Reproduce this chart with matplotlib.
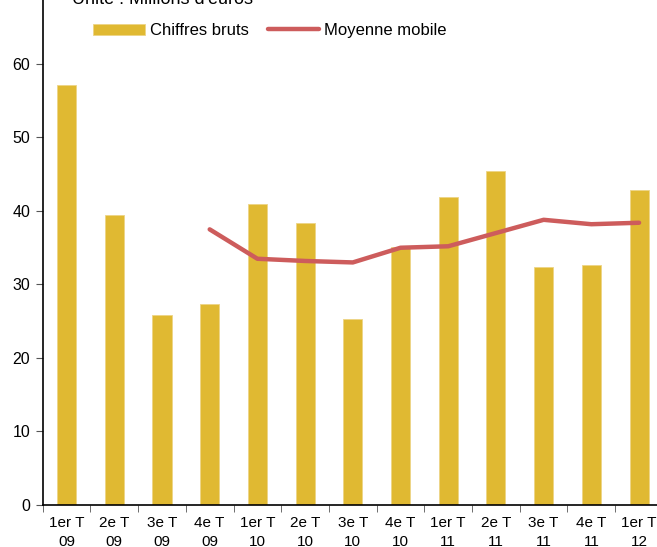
import numpy as np
import matplotlib.pyplot as plt

plt.rcParams['font.family'] = ['Liberation Sans', 'DejaVu Sans']

# données (millions d'euros)
trimestres = ['1er T\n09', '2e T\n09', '3e T\n09', '4e T\n09',
              '1er T\n10', '2e T\n10', '3e T\n10', '4e T\n10',
              '1er T\n11', '2e T\n11', '3e T\n11', '4e T\n11',
              '1er T\n12']
chiffres_bruts = [57.1, 39.5, 25.8, 27.3, 40.9, 38.3, 25.3, 35.1,
                  41.9, 45.4, 32.4, 32.7, 42.9]
moyenne_mobile = [np.nan, np.nan, np.nan, 37.5, 33.5, 33.2, 33.0, 35.0,
                  35.2, 37.0, 38.8, 38.2, 38.4]

bar_color = '#E0B932'
line_color = '#CD5C5C'

fig = plt.figure(figsize=(6.57, 5.47), dpi=100)
ax = fig.add_axes([0.065, 0.0768, 0.944, 0.9406])

x = np.arange(len(trimestres))
bars = ax.bar(x, chiffres_bruts, width=0.4, color=bar_color, edgecolor='#EDD585',
              linewidth=0.6, label='Chiffres bruts', zorder=2)
line, = ax.plot(x, moyenne_mobile, color=line_color, linewidth=3.2,
                solid_capstyle='round', label='Moyenne mobile', zorder=3)

ax.set_xlim(-0.5, len(trimestres) - 0.5)
ax.set_ylim(0, 70)
ax.set_yticks(range(0, 61, 10))
ax.tick_params(axis='y', labelsize=11.5, length=5, color='#555555', pad=4)

ax.set_xticks(x)
ax.set_xticklabels(trimestres, fontsize=11, linespacing=1.45)
ax.tick_params(axis='x', which='major', length=0, pad=8)
ax.set_xticks(np.arange(-0.5, len(trimestres), 1), minor=True)
ax.tick_params(axis='x', which='minor', length=5, color='#555555')

for s in ['top', 'right']:
    ax.spines[s].set_visible(False)
ax.spines['left'].set_linewidth(1.2)
ax.spines['bottom'].set_linewidth(1.2)

fig.text(72 / 657, 1 - 4 / 547, "Unité : Millions d'euros", fontsize=13,
         va='baseline', ha='left')

fig.legend([bars, line], ['Chiffres bruts', 'Moyenne mobile'],
           loc='center left', bbox_to_anchor=(93 / 657, 1 - 30.7 / 547),
           ncol=2, frameon=False, fontsize=12, borderpad=0, borderaxespad=0,
           handlelength=3.1, handletextpad=0.3, columnspacing=1.15)

plt.savefig('out.png', dpi=100)
plt.close()
